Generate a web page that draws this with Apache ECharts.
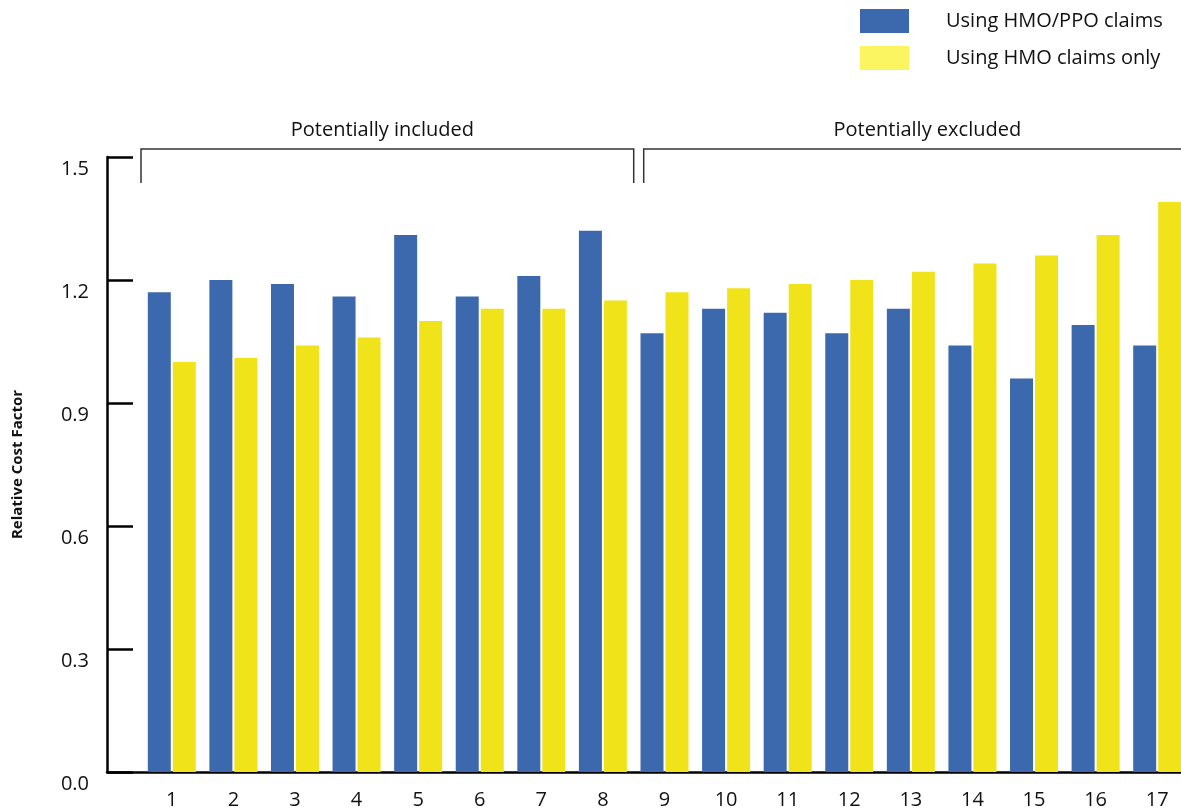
<!DOCTYPE html>
<html>
<head>
<meta charset="utf-8">
<script src="https://cdn.jsdelivr.net/npm/echarts@6/dist/echarts.min.js"></script>
<style>
  html, body { margin: 0; padding: 0; background: #fff; }
  #chart { width: 1181px; height: 809px; }
</style>
</head>
<body>
<div id="chart"></div>
<script>
// Relative cost factor by rank, two claim bases
const categories = ['1','2','3','4','5','6','7','8','9','10','11','12','13','14','15','16','17'];
const hmoPpoClaims = [1.17, 1.20, 1.19, 1.16, 1.31, 1.16, 1.21, 1.32, 1.07, 1.13, 1.12, 1.07, 1.13, 1.04, 0.96, 1.09, 1.04];
const hmoClaimsOnly = [1.00, 1.01, 1.04, 1.06, 1.10, 1.13, 1.13, 1.15, 1.17, 1.18, 1.19, 1.20, 1.22, 1.24, 1.26, 1.31, 1.39];
const seriesNames = ['Using HMO/PPO claims', 'Using HMO claims only'];

// Bracketed groups over the categories (first and last category index)
const groupNames = ['Potentially included', 'Potentially excluded'];
const groupStart = [0, 8];
const groupEnd = [7, 16];

const yTicks = { min: 0, max: 1.5, interval: 0.3 };

const FONT = '"Open Sans", "Noto Sans", sans-serif';
const BLUE = '#3C69AD';
const YELLOW = '#F0E31A';
const YELLOW_KEY = '#FCF562';

const chart = echarts.init(document.getElementById('chart'), null, { renderer: 'canvas' });

const bracketData = groupNames.map((n, i) => [groupStart[i], groupEnd[i], n]);

const option = {
  backgroundColor: '#fff',
  animation: false,
  textStyle: { fontFamily: FONT },
  legend: {
    orient: 'vertical',
    left: 860,
    top: 9,
    padding: 0,
    itemWidth: 49,
    itemHeight: 24,
    itemGap: 13,
    icon: 'rect',
    textStyle: { fontFamily: FONT, fontSize: 20, color: '#111', padding: [0, 0, 0, 32] },
    data: [
      { name: seriesNames[0], itemStyle: { color: BLUE } },
      { name: seriesNames[1], itemStyle: { color: YELLOW_KEY } }
    ]
  },
  grid: [
    { left: 107, width: 1081, top: 157, bottom: 37, outerBoundsMode: 'none', containLabel: false },
    { left: 141, width: 1047, top: 157, bottom: 37, outerBoundsMode: 'none', containLabel: false }
  ],
  xAxis: [
    {
      type: 'value', gridIndex: 0, min: 0, max: 1,
      axisLine: { show: true, onZero: false, lineStyle: { color: '#000', width: 2.5 } },
      axisTick: { show: false }, axisLabel: { show: false }, splitLine: { show: false }
    },
    {
      type: 'category', gridIndex: 1, data: categories,
      axisLine: { show: false }, axisTick: { show: false },
      axisLabel: { fontFamily: FONT, fontSize: 20, color: '#111', margin: 18 }
    }
  ],
  yAxis: [
    {
      type: 'value', gridIndex: 0,
      min: yTicks.min, max: yTicks.max, interval: yTicks.interval,
      axisLine: { show: true, lineStyle: { color: '#000', width: 2.5 } },
      axisTick: { show: true, inside: true, length: 26, lineStyle: { color: '#000', width: 2.5 } },
      axisLabel: {
        fontFamily: FONT, fontSize: 20, color: '#111', margin: 18,
        verticalAlign: 'top', lineHeight: 24,
        formatter: v => v.toFixed(1)
      },
      splitLine: { show: false },
      name: 'Relative Cost Factor',
      nameLocation: 'middle',
      nameGap: 82,
      nameRotate: 90,
      nameTextStyle: { fontFamily: FONT, fontSize: 15, fontWeight: 'bold', color: '#111' }
    },
    {
      type: 'value', gridIndex: 1,
      min: yTicks.min, max: yTicks.max, interval: yTicks.interval,
      show: false
    }
  ],
  series: [
    {
      name: seriesNames[0], type: 'bar', xAxisIndex: 1, yAxisIndex: 1,
      data: hmoPpoClaims, barWidth: 23, barGap: '8.7%',
      itemStyle: { color: BLUE }, z: 1
    },
    {
      name: seriesNames[1], type: 'bar', xAxisIndex: 1, yAxisIndex: 1,
      data: hmoClaimsOnly, barWidth: 23,
      itemStyle: { color: YELLOW }, z: 1
    },
    {
      // group brackets with their captions
      type: 'custom', xAxisIndex: 1, yAxisIndex: 1,
      data: bracketData,
      clip: false, silent: true, z: 5,
      renderItem: function (params, api) {
        const band = api.size([1, 0])[0];
        const i = params.dataIndex;
        const inset = i > 0 ? 10 : 0;
        const captionShift = i > 0 ? 15 : -5;
        const x0 = api.coord([api.value(0), 0])[0] - band / 2 + inset;
        const x1 = api.coord([api.value(1), 0])[0] + band / 2;
        const yTop = api.coord([0, yTicks.max])[1] - 8;
        const yLeg = yTop + 34;
        return {
          type: 'group',
          children: [
            {
              type: 'polyline',
              shape: { points: [[x0, yLeg], [x0, yTop], [x1, yTop], [x1, yLeg]] },
              style: { stroke: '#333', lineWidth: 1.5, fill: null }
            },
            {
              type: 'text',
              x: (x0 + Math.min(x1, 1181)) / 2 + captionShift,
              y: yTop - 19,
              style: {
                text: api.value(2),
                fontFamily: FONT, fontSize: 20, fill: '#111',
                align: 'center', verticalAlign: 'middle'
              }
            }
          ]
        };
      }
    }
  ]
};

chart.setOption(option);
</script>
</body>
</html>
